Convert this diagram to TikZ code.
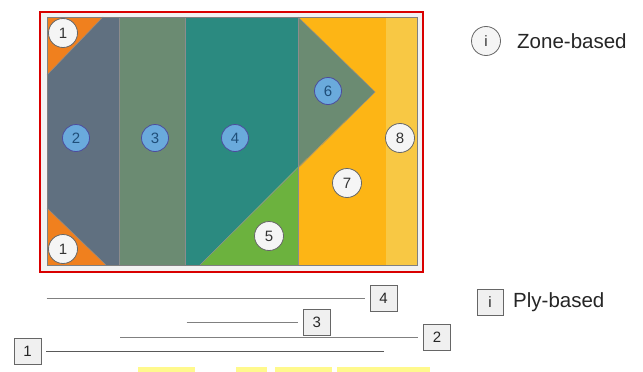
\documentclass[tikz,border=0pt]{standalone}
\usepackage{fontspec}
\setmainfont{Liberation Sans}
\begin{document}
\begin{tikzpicture}[x=1pt,y=-1pt,
  zoneedge/.style={draw=black!45,line width=0.5pt},
  zcircle/.style={circle,draw=black!60,fill=gray!8,line width=0.8pt,minimum size=29pt,inner sep=0pt,font=\fontsize{15}{17}\selectfont,text=black!80},
  bcircle/.style={circle,draw=blue!45!black!70,fill=bluefill,line width=0.8pt,minimum size=27pt,inner sep=0pt,font=\fontsize{15}{17}\selectfont,text=bluetext},
  plybox/.style={rectangle,draw=black!60,fill=gray!12,line width=0.8pt,minimum width=27pt,minimum height=26pt,inner sep=0pt,font=\fontsize{15}{17}\selectfont,text=black!85},
  plyline/.style={draw=black!50,line width=0.9pt,shorten >=5pt},
  legend/.style={anchor=west,font=\fontsize{20.5}{23}\selectfont,text=black!85,inner sep=0pt},
  hilite/.style={fill=yellow!45}
]
\definecolor{bluefill}{HTML}{6AAADC}
\definecolor{bluetext}{HTML}{1F4E79}
\definecolor{zorange}{HTML}{F0801E}
\definecolor{zslate}{HTML}{607080}
\definecolor{zsage}{HTML}{6B8B72}
\definecolor{zteal}{HTML}{2B8A80}
\definecolor{zgreen}{HTML}{6CB23E}
\definecolor{zamber}{HTML}{FDB515}
\definecolor{zyellow}{HTML}{F8C844}
\useasboundingbox (0,0) rectangle (643,372);
\fill[white] (0,0) rectangle (643,372);
% frame
\fill[gray!10] (40,12) rectangle (423,272);
\draw[red!85!black,line width=2pt] (40,12) rectangle (423,272);
% zones
\fill[zslate] (47,17) rectangle (119,265);
\fill[zsage] (119,17) rectangle (185,265);
\fill[zteal] (185,17) -- (298,17) -- (298,167) -- (200,265) -- (185,265) -- cycle;
\fill[zamber] (298,17) rectangle (386,265);
\fill[zyellow] (386,17) rectangle (417,265);
\fill[zsage] (298,17) -- (375,92) -- (298,167) -- cycle;
\fill[zgreen] (200,265) -- (298,167) -- (298,265) -- cycle;
\fill[zorange] (47,17) -- (103,17) -- (47,75) -- cycle;
\fill[zorange] (47,208) -- (106,265) -- (47,265) -- cycle;
% zone edges
\draw[zoneedge] (119,17) -- (119,265);
\draw[zoneedge] (185,17) -- (185,265);
\draw[zoneedge] (298,17) -- (298,265);
\draw[zoneedge] (298,17) -- (375,92) -- (200,265);
\draw[zoneedge] (103,17) -- (47,75);
\draw[zoneedge] (47,208) -- (106,265);
\draw[black!50,line width=0.7pt] (47,17) rectangle (417,265);
% zone labels
\node[zcircle] (z1a) at (63,33) {1};
\node[zcircle] (z1b) at (63,249) {1};
\node[bcircle] (z2) at (76,138) {2};
\node[bcircle] (z3) at (155,138) {3};
\node[bcircle] (z4) at (235,138) {4};
\node[zcircle] (z5) at (269,236) {5};
\node[bcircle] (z6) at (328,91) {6};
\node[zcircle] (z7) at (347,183) {7};
\node[zcircle] (z8) at (400,138) {8};
% legend
\node[zcircle] (li) at (486,41) {i};
\node[legend] (lz) at (517,41) {Zone-based};
\node[plybox,minimum width=26pt] (lp) at (490,302) {i};
\node[legend] (lpt) at (513,302) {Ply-based};
% ply stack
\node[plybox] (p4) at (383.5,298.5) {4};
\node[plybox] (p3) at (316.7,322.5) {3};
\node[plybox] (p2) at (437,337.7) {2};
\node[plybox] (p1) at (27.5,351.5) {1};
\coordinate (c4) at (46.7,298.5);
\coordinate (c3) at (186.7,322.5);
\coordinate (c2) at (120,337.7);
\coordinate (c1) at (384,351.5);
\draw[plyline] (c4) -- (p4);
\draw[plyline] (c3) -- (p3);
\draw[plyline] (c2) -- (p2);
\draw[plyline,draw=black!65,line width=1.1pt] (c1) -- (p1);
% highlights at bottom edge
\fill[hilite] (138,367.3) rectangle (195,372);
\fill[hilite] (236,367.3) rectangle (267,372);
\fill[hilite] (275,367.3) rectangle (332,372);
\fill[hilite] (337,367.3) rectangle (430,372);
\end{tikzpicture}
\end{document}
